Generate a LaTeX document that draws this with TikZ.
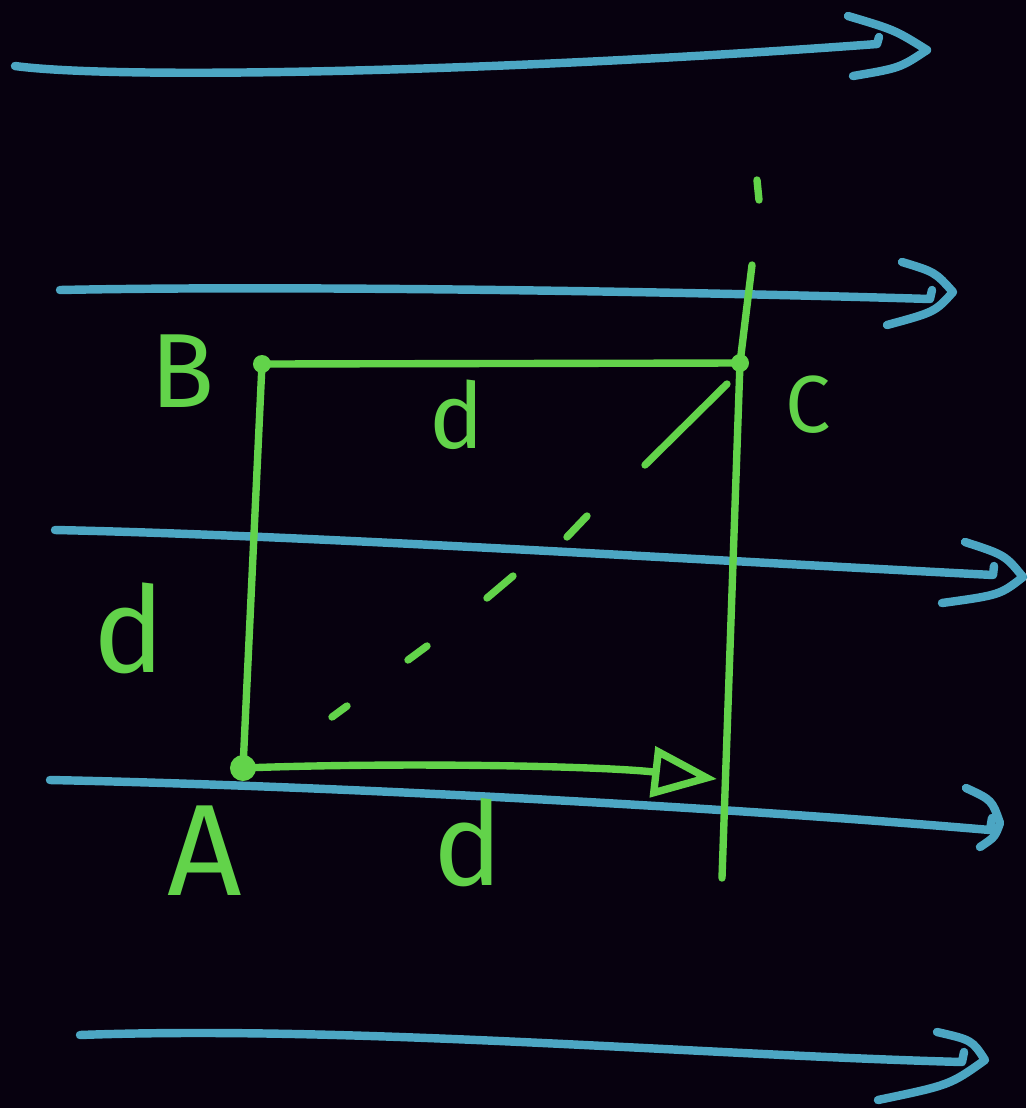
\documentclass[tikz,border=0pt]{standalone}
\usepackage{fontspec}
\setmainfont{Fira Sans}
\usetikzlibrary{arrows.meta}
\definecolor{night}{HTML}{07010F}
\definecolor{field}{HTML}{4CA6C3}
\definecolor{chalk}{HTML}{62D34A}

\begin{document}
\begin{tikzpicture}[x=0.01cm,y=-0.01cm,
  fline/.style={field,line width=2.4pt,line cap=round,line join=round},
  gline/.style={chalk,line width=2.1pt,line cap=round,line join=round},
  pt/.style={circle,fill=chalk,inner sep=0pt,minimum size=#1},
  pt/.default=0.18cm,
  lbl/.style={text=chalk,inner sep=0pt},
  arr/.style={-{Triangle[open,length=6.5mm,width=5mm]}}]
\fill[night] (0,0) rectangle (1026,1108);
% field lines
\draw[fline] (15,66) .. controls (120,80) and (500,72) .. (877,44) -- (879,37);
\draw[fline] (848,16) .. controls (895,30) .. (927,50) .. controls (900,68) .. (853,76);
\draw[fline] (60,290) .. controls (300,285) and (700,292) .. (930,299) -- (932,290);
\draw[fline] (902,262) .. controls (935,272) .. (953,292) .. controls (935,312) .. (887,325);
\draw[fline] (55,530) .. controls (300,535) and (700,560) .. (993,575) -- (994,566);
\draw[fline] (965,542) .. controls (1005,555) .. (1023,577) .. controls (1000,595) .. (942,603);
\draw[fline] (50,780) .. controls (300,785) and (700,805) .. (990,830) -- (992,818);
\draw[fline] (966,788) .. controls (992,800) .. (1000,823) .. controls (995,837) .. (980,847);
\draw[fline] (80,1035) .. controls (350,1025) and (700,1055) .. (962,1062) -- (964,1052);
\draw[fline] (937,1032) .. controls (972,1040) .. (985,1060) .. controls (950,1085) .. (878,1100);
% square
\node[pt] (B) at (262,364) {};
\node[pt] (C) at (740,363) {};
\node[pt=0.26cm] (A) at (243,768) {};
\coordinate (vtop) at (752,265);
\coordinate (vbot) at (722,878);
\coordinate (tipA) at (717,779);
\draw[gline] (B.center) -- (C.center);
\draw[gline] (B.center) -- (A.center);
\draw[gline] (vtop) -- (C.center) -- (vbot);
\draw[gline] (757,180) -- (759,200);
\draw[gline,arr] (A.center) .. controls (400,762) and (600,766) .. (tipA);
% diagonal
\draw[gline] (645,465) -- (727,384);
\draw[gline] (567,537) -- (587,516);
\draw[gline] (487,598) -- (513,576);
\draw[gline] (408,660) -- (427,646);
\draw[gline] (332,717) -- (347,706);
% labels
\node[lbl,font=\fontsize{30}{30}\selectfont] (lB) at (183,371) {B};
\node[lbl,font=\fontsize{23}{23}\selectfont] (lC) at (808,405) {C};
\node[lbl,font=\fontsize{37}{37}\selectfont] (lA) at (205,851) {A};
\node[lbl,font=\fontsize{26}{26}\selectfont] (dBC) at (457,415) {d};
\node[lbl,font=\fontsize{34}{34}\selectfont] (dAB) at (129,628) {d};
\node[lbl,font=\fontsize{33}{33}\selectfont] (dA) at (468,843) {d};
\end{tikzpicture}
\end{document}
